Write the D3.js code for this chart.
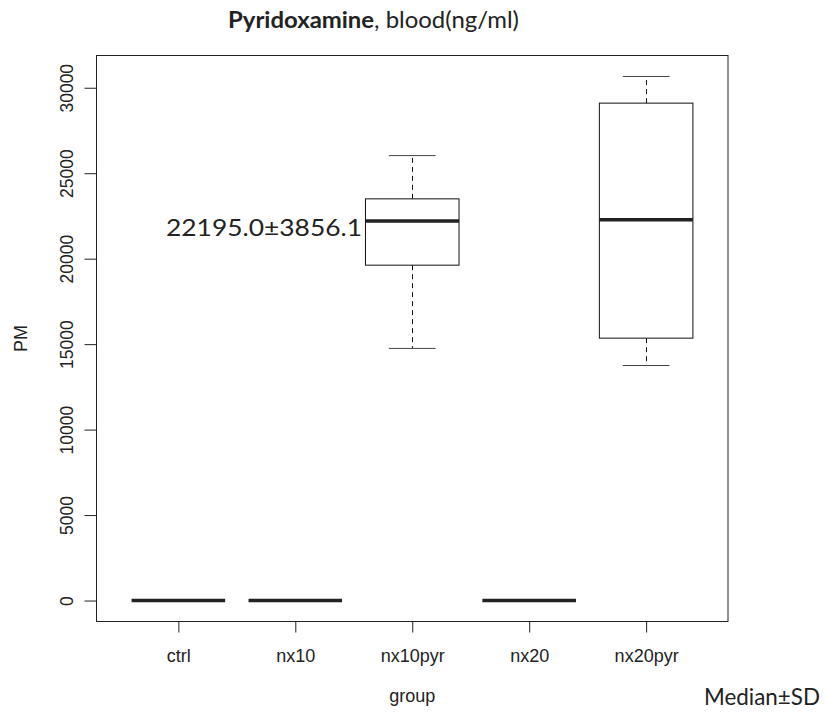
<!DOCTYPE html>
<html>
<head>
<meta charset="utf-8">
<script src="https://cdn.jsdelivr.net/npm/d3@7"></script>
<style>
  body { margin: 0; background: #fff; }
</style>
</head>
<body>
<script>
var width = 825
var height = 713

// groups and box statistics
var groups = ['ctrl', 'nx10', 'nx10pyr', 'nx20', 'nx20pyr']
var lowWhisker = [0, 0, 14750, 0, 13750]
var q1 = [0, 0, 19620, 0, 15350]
var medians = [0, 0, 22200, 0, 22270]
var q3 = [0, 0, 23500, 0, 29100]
var highWhisker = [0, 0, 26030, 0, 30660]
var yTicks = [0, 5000, 10000, 15000, 20000, 25000, 30000]

var data = groups.map(function(g, i) {
    return {group: g, idx: i + 1, lo: lowWhisker[i], q1: q1[i], med: medians[i], q3: q3[i], hi: highWhisker[i]}
})

// plot frame edges
var pLeft = 96.5
var pRight = 728
var pTop = 55.5
var pBottom = 621.5

var yMax = d3.max(highWhisker)
var xScale = d3.scaleLinear()
    .domain([0.3, groups.length + 0.7])
    .range([pLeft, pRight])

var yScale = d3.scaleLinear()
    .domain([-0.04 * yMax, 1.04 * yMax])
    .range([pBottom, pTop])

var svg = d3.select('body')
    .append('svg')
    .attr('width', width)
    .attr('height', height)
    .style('font-family', 'Liberation Sans, Arial, sans-serif')

var boxW = xScale(1.4) - xScale(1)
var capW = boxW / 2

var g = svg.append('g')

// whiskers
g.selectAll('.whisk-hi')
    .data(data)
    .enter()
    .append('line')
    .attr('x1', d => Math.round(xScale(d.idx)) + 0.5)
    .attr('x2', d => Math.round(xScale(d.idx)) + 0.5)
    .attr('y1', d => yScale(d.q3))
    .attr('y2', d => yScale(d.hi))
    .attr('stroke', '#111')
    .attr('stroke-dasharray', '5,4')

g.selectAll('.whisk-lo')
    .data(data)
    .enter()
    .append('line')
    .attr('x1', d => Math.round(xScale(d.idx)) + 0.5)
    .attr('x2', d => Math.round(xScale(d.idx)) + 0.5)
    .attr('y1', d => yScale(d.q1))
    .attr('y2', d => yScale(d.lo))
    .attr('stroke', '#111')
    .attr('stroke-dasharray', '5,4')

// caps
g.selectAll('.cap-hi')
    .data(data)
    .enter()
    .append('line')
    .attr('x1', d => xScale(d.idx) - capW)
    .attr('x2', d => xScale(d.idx) + capW)
    .attr('y1', d => yScale(d.hi))
    .attr('y2', d => yScale(d.hi))
    .attr('stroke', '#444')

g.selectAll('.cap-lo')
    .data(data)
    .enter()
    .append('line')
    .attr('x1', d => xScale(d.idx) - capW)
    .attr('x2', d => xScale(d.idx) + capW)
    .attr('y1', d => yScale(d.lo))
    .attr('y2', d => yScale(d.lo))
    .attr('stroke', '#444')

// boxes
g.selectAll('rect')
    .data(data)
    .enter()
    .append('rect')
    .attr('x', d => xScale(d.idx) - boxW)
    .attr('width', boxW * 2)
    .attr('y', d => yScale(d.q3))
    .attr('height', d => yScale(d.q1) - yScale(d.q3))
    .attr('fill', 'none')
    .attr('stroke', '#111')

// medians
g.selectAll('.med')
    .data(data)
    .enter()
    .append('line')
    .attr('x1', d => xScale(d.idx) - boxW)
    .attr('x2', d => xScale(d.idx) + boxW)
    .attr('y1', d => yScale(d.med))
    .attr('y2', d => yScale(d.med))
    .attr('stroke', '#222')
    .attr('stroke-width', 3.5)

// plot frame
svg.append('rect')
    .attr('x', pLeft)
    .attr('y', pTop)
    .attr('width', pRight - pLeft)
    .attr('height', pBottom - pTop)
    .attr('fill', 'none')
    .attr('stroke', '#222')

// y axis
var yAxis = svg.append('g')
    .attr('transform', 'translate(' + pLeft + ',0)')
    .call(d3.axisLeft(yScale).tickValues(yTicks).tickSize(12).tickFormat(d3.format('d')))
yAxis.select('.domain').remove()
yAxis.selectAll('line').attr('stroke', '#222')
yAxis.selectAll('text')
    .attr('x', 0)
    .attr('dy', 0)
    .attr('transform', 'translate(-24,0) rotate(-90)')
    .attr('text-anchor', 'middle')
    .style('font-size', '17.5px')
    .style('font-family', 'Liberation Sans, Arial, sans-serif')
    .attr('fill', '#222')

// x axis
var xAxis = svg.append('g')
    .attr('transform', 'translate(0,' + pBottom + ')')
    .call(d3.axisBottom(xScale).tickValues(data.map(d => d.idx)).tickSize(11).tickPadding(17)
        .tickFormat(i => groups[i - 1]))
xAxis.select('.domain').remove()
xAxis.selectAll('line').attr('stroke', '#222')
xAxis.selectAll('text')
    .style('font-size', '18px')
    .style('font-family', 'Liberation Sans, Arial, sans-serif')
    .attr('fill', '#222')

// axis titles
svg.append('text')
    .text('group')
    .attr('x', (pLeft + pRight) / 2)
    .attr('y', 702)
    .attr('text-anchor', 'middle')
    .style('font-size', '18px')
    .attr('fill', '#222')

svg.append('text')
    .text('PM')
    .attr('transform', 'translate(27,' + (pTop + pBottom) / 2 + ') rotate(-90)')
    .attr('text-anchor', 'middle')
    .style('font-size', '18px')
    .attr('fill', '#222')

// title
var title = svg.append('text')
    .attr('x', 228)
    .attr('y', 28)
    .attr('textLength', 291)
    .attr('lengthAdjust', 'spacingAndGlyphs')
    .style('font-family', 'Lato, sans-serif')
    .style('font-size', '23.5px')
    .attr('fill', '#222')
title.append('tspan').text('Pyridoxamine').style('font-weight', 'bold')
title.append('tspan').text(', blood(ng/ml)')

// annotations
svg.append('text')
    .text('22195.0\u00b13856.1')
    .attr('x', 166)
    .attr('y', 236)
    .attr('textLength', 196)
    .attr('lengthAdjust', 'spacingAndGlyphs')
    .style('font-family', 'Lato, sans-serif')
    .style('font-size', '24px')
    .attr('fill', '#222')

svg.append('text')
    .text('Median\u00b1SD')
    .attr('x', 704)
    .attr('y', 705)
    .attr('textLength', 116)
    .attr('lengthAdjust', 'spacingAndGlyphs')
    .style('font-family', 'Lato, sans-serif')
    .style('font-size', '23px')
    .attr('fill', '#222')
</script>
</body>
</html>
